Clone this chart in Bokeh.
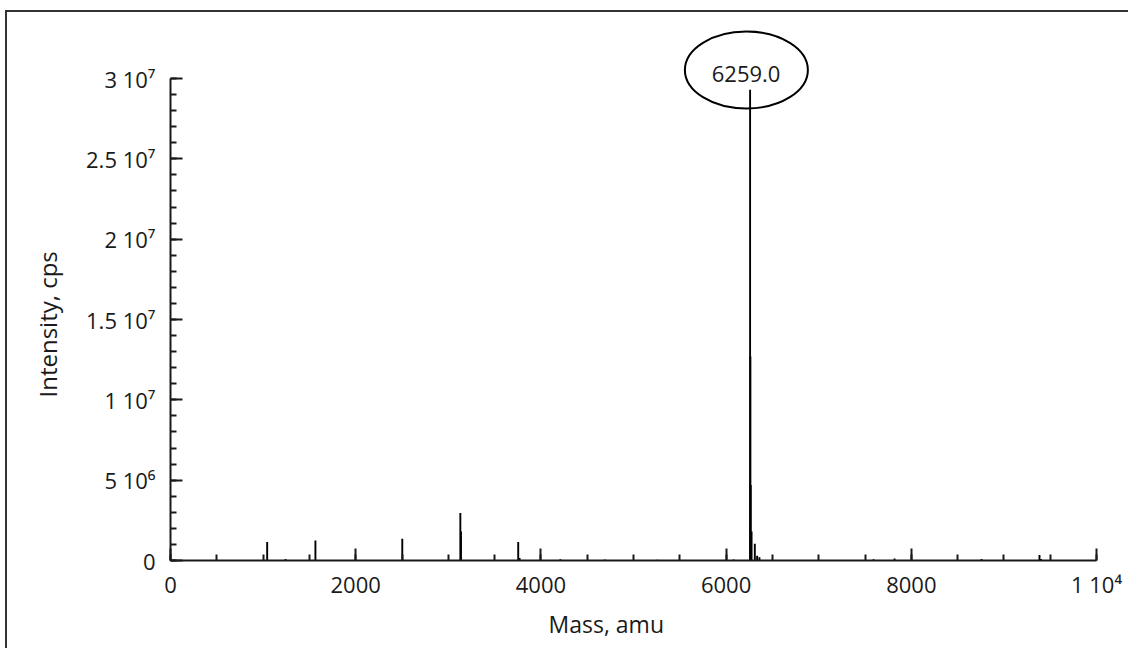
from bokeh.plotting import figure
from bokeh.models import Range1d, FixedTicker, Label, ColumnDataSource, Title
from bokeh.embed import file_html
from bokeh.resources import INLINE

# ---------------- data ----------------
peak_mass = [1044, 1242, 1565, 2503, 3130, 3137, 3755, 3770, 4210, 4690, 5259, 6080,
             6259, 6262, 6266, 6275, 6310, 6335, 6360, 7592, 7819, 8758, 9384, 9400]
peak_intensity = [1.15e6, 0.10e6, 1.25e6, 1.35e6, 2.96e6, 1.80e6, 1.15e6, 0.15e6, 0.08e6,
                  0.06e6, 0.05e6, 0.06e6, 2.93e7, 1.27e7, 4.7e6, 1.8e6, 1.05e6, 0.30e6,
                  0.20e6, 0.08e6, 0.12e6, 0.10e6, 0.35e6, 0.10e6]

annot_mass = 6259.0
annot_text = "6259.0"

x_ticks = [0, 2000, 4000, 6000, 8000, 10000]
x_tick_labels = ["0", "2000", "4000", "6000", "8000", "1 10\u2074"]
y_ticks = [0, 5000000, 10000000, 15000000, 20000000, 25000000, 30000000]
y_tick_labels = ["0", "5 10\u2076", "1 10\u2077", "1.5 10\u2077", "2 10\u2077", "2.5 10\u2077", "3 10\u2077"]

x_title = "Mass, amu"
y_title = "Intensity, cps"

# ---------------- figure ----------------
FONT = "Open Sans"
INK = "#1a1a1a"

p = figure(width=1123, height=638, output_backend="svg", toolbar_location=None,
           x_range=Range1d(0, 10367), y_range=Range1d(0, 3.4108e7),
           min_border_left=163, min_border_right=0, min_border_top=0, min_border_bottom=90)
p.styles = {"margin-left": "5px", "margin-top": "10px",
            "border-left": "2px solid #333333", "border-top": "2px solid #333333"}
p.outline_line_color = None
p.xgrid.visible = False
p.ygrid.visible = False
p.background_fill_color = "white"
p.border_fill_color = "white"

src = ColumnDataSource(dict(mass=peak_mass, intensity=peak_intensity))
p.segment(x0="mass", y0=0, x1="mass", y1="intensity", source=src,
          line_color="black", line_width=1.9)

# axes
for ax in (p.xaxis[0], p.yaxis[0]):
    ax.axis_line_color = INK
    ax.axis_line_width = 2
    ax.major_tick_line_color = INK
    ax.major_tick_line_width = 2
    ax.minor_tick_line_color = INK
    ax.minor_tick_line_width = 2
    ax.major_tick_out = 0
    ax.minor_tick_out = 0
    ax.major_tick_in = 12
    ax.minor_tick_in = 6
    ax.major_label_text_font = FONT
    ax.major_label_text_font_size = "22px"
    ax.major_label_text_color = INK
    ax.axis_label = None

p.xaxis.bounds = (0, 10000)
p.yaxis.bounds = (0, 30000000)
p.xaxis.ticker = FixedTicker(ticks=x_ticks, minor_ticks=list(range(0, 10001, 500)))
p.yaxis.ticker = FixedTicker(ticks=y_ticks, minor_ticks=list(range(0, 30000001, 1000000)))
p.xaxis.major_label_overrides = dict(zip(x_ticks, x_tick_labels))
p.yaxis.major_label_overrides = dict(zip(y_ticks, y_tick_labels))
p.xaxis.major_label_standoff = 8
p.yaxis.major_label_standoff = 15

# axis titles (placed in side panels)
p.add_layout(Title(text=y_title, align="left", offset=163, standoff=40,
                   text_font=FONT, text_font_size="24px", text_font_style="normal",
                   text_color=INK), "left")
p.add_layout(Title(text=x_title, align="left", offset=378, standoff=9,
                   text_font=FONT, text_font_size="23px", text_font_style="normal",
                   text_color=INK), "below")

# peak annotation
p.ellipse(x=annot_mass - 40, y=3.053e7, width=123, height=77,
          width_units="screen", height_units="screen",
          fill_color=None, line_color="black", line_width=2)
p.add_layout(Label(x=annot_mass, y=3.028e7, x_offset=-4, text=annot_text,
                   text_align="center", text_baseline="middle",
                   text_font=FONT, text_font_size="22px", text_color=INK))

open("out.html", "w").write(file_html(p, INLINE))
